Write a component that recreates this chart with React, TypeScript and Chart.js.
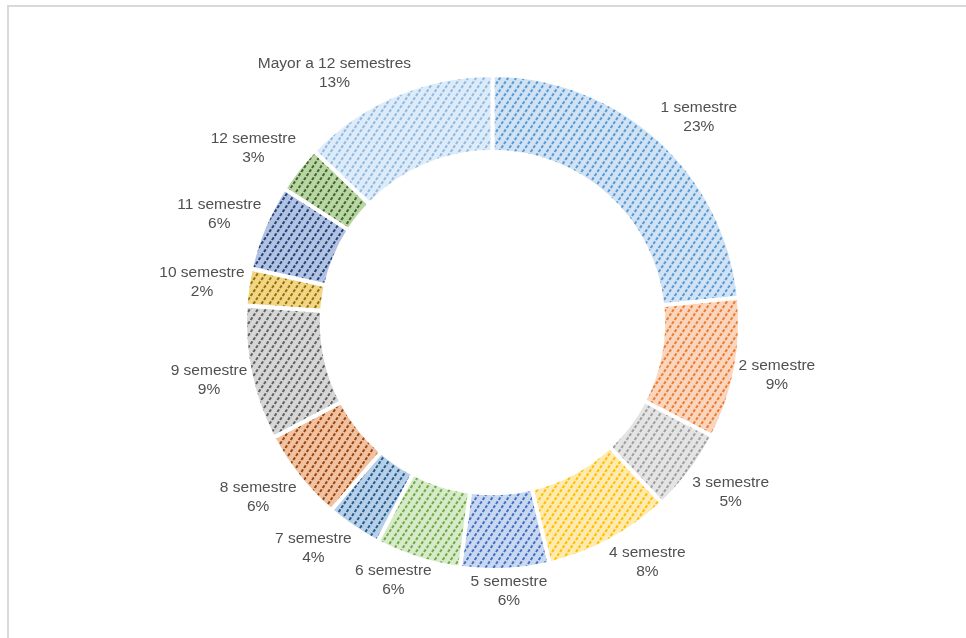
import React, { useEffect, useRef } from "react";
import { Chart, registerables } from "chart.js";

Chart.register(...registerables);

const categories = [
  "1 semestre",
  "2 semestre",
  "3 semestre",
  "4 semestre",
  "5 semestre",
  "6 semestre",
  "7 semestre",
  "8 semestre",
  "9 semestre",
  "10 semestre",
  "11 semestre",
  "12 semestre",
  "Mayor a 12 semestres",
];

const shares = [23.4, 9.2, 5.4, 8.3, 5.8, 5.6, 3.6, 6.0, 8.8, 2.4, 5.6, 3.1, 12.8];

const lineColors = [
  "#5b9bd5",
  "#ed7d31",
  "#a0a0a0",
  "#ffc000",
  "#4472c4",
  "#70ad47",
  "#255e91",
  "#9e480e",
  "#636363",
  "#997300",
  "#264478",
  "#43682b",
  "#8fbbe4",
];

const fillColors = [
  "#d0e2f4",
  "#fad6be",
  "#e4e4e4",
  "#ffeab0",
  "#c9d7f0",
  "#d7eaca",
  "#b8cfe8",
  "#f1c2a2",
  "#d6d6d6",
  "#f1d687",
  "#b2c2e2",
  "#b8d5a4",
  "#deebf8",
];

function makePattern(bg: string, fg: string): CanvasPattern | string {
  const W = 8;
  const H = 12;
  const c = document.createElement("canvas");
  c.width = W;
  c.height = H;
  const ctx = c.getContext("2d");
  if (!ctx) return bg;
  ctx.fillStyle = bg;
  ctx.fillRect(0, 0, W, H);
  ctx.strokeStyle = fg;
  ctx.lineWidth = 2;
  const len = Math.sqrt(W * W + H * H);
  ctx.setLineDash([len / 4.5, len / 9]);
  for (const off of [-W, 0, W]) {
    ctx.beginPath();
    ctx.moveTo(-W + off, 2 * H);
    ctx.lineTo(2 * W + off, -H);
    ctx.stroke();
  }
  const p = ctx.createPattern(c, "repeat");
  return p || bg;
}

const labelPlugin = {
  id: "outsideLabels",
  afterDatasetsDraw(chart: any) {
    const meta = chart.getDatasetMeta(0);
    const ctx = chart.ctx as CanvasRenderingContext2D;
    const data = chart.data.datasets[0].data as number[];
    const total = data.reduce((a, b) => a + b, 0);
    ctx.save();
    ctx.font = '15.5px "Liberation Sans", Arial, sans-serif';
    ctx.fillStyle = "#505050";
    ctx.textAlign = "center";
    ctx.textBaseline = "middle";
    const lh = 19;
    meta.data.forEach((arc: any, i: number) => {
      const { x, y, startAngle, endAngle, outerRadius } = arc.getProps(
        ["x", "y", "startAngle", "endAngle", "outerRadius"],
        true
      );
      const mid = (startAngle + endAngle) / 2;
      const r = outerRadius + 3;
      const ax = x + Math.cos(mid) * r;
      const ay = y + Math.sin(mid) * r;
      const l1 = chart.data.labels[i] as string;
      const l2 = Math.round((data[i] / total) * 100) + "%";
      const w = Math.max(ctx.measureText(l1).width, ctx.measureText(l2).width);
      const clamp = (v: number) => Math.max(-1, Math.min(1, v));
      const cx = ax + (w / 2) * clamp(2 * Math.cos(mid));
      const cy = ay + lh * clamp(1.6 * Math.sin(mid));
      ctx.fillText(l1, cx, cy - lh / 2);
      ctx.fillText(l2, cx, cy + lh / 2);
    });
    ctx.restore();
  },
};

export default function App() {
  const ref = useRef<HTMLCanvasElement | null>(null);

  useEffect(() => {
    if (!ref.current) return;
    const bgs = shares.map((_, i) => makePattern(fillColors[i], lineColors[i]));
    const chart = new Chart(ref.current, {
      type: "doughnut",
      data: {
        labels: categories,
        datasets: [
          {
            data: shares,
            backgroundColor: bgs as any,
            borderColor: "#ffffff",
            borderWidth: 4,
            hoverOffset: 0,
          },
        ],
      },
      options: {
        responsive: false,
        animation: false,
        cutout: "69%",
        layout: {
          padding: { left: 243, right: 224, top: 73, bottom: 66 },
        },
        plugins: {
          legend: { display: false },
          tooltip: { enabled: false },
        },
      },
      plugins: [labelPlugin],
    });
    return () => chart.destroy();
  }, []);

  return (
    <div
      style={{
        position: "fixed",
        left: 0,
        top: 0,
        width: 966,
        height: 638,
        background: "#ffffff",
        overflow: "hidden",
      }}
    >
      <div
        style={{
          position: "absolute",
          left: 7,
          top: 5,
          width: 962,
          height: 700,
          border: "2px solid #d9d9d9",
          boxSizing: "border-box",
        }}
      />
      <canvas
        ref={ref}
        width={966}
        height={638}
        style={{ position: "absolute", left: 0, top: 0, display: "block" }}
      />
    </div>
  );
}
